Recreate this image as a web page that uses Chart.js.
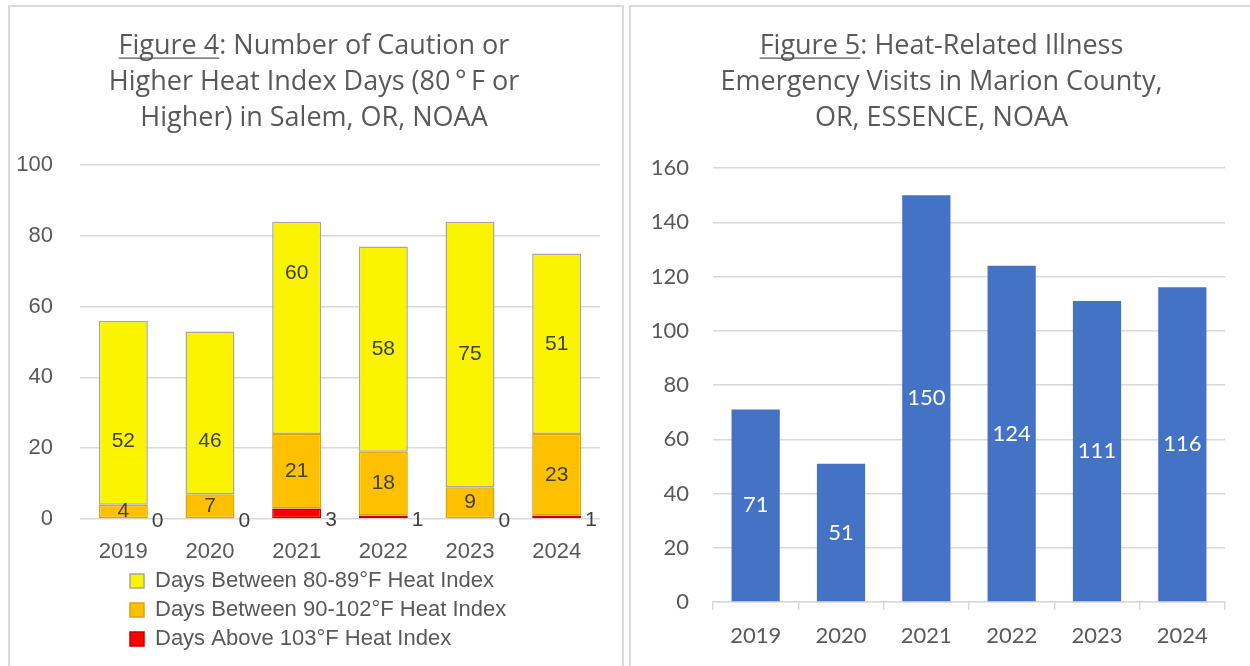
<!DOCTYPE html>
<html>
<head>
<meta charset="utf-8">
<script src="https://cdn.jsdelivr.net/npm/chart.js@4.4.1/dist/chart.umd.min.js"></script>
<style>
  html, body { margin:0; padding:0; background:#fff; width:1250px; height:666px; overflow:hidden; }
  .panel { position:absolute; border:2px solid #d9d9d9; box-sizing:border-box; }
  #p1 { left:8px; top:5px; width:616px; height:700px; }
  #p2 { left:629px; top:5px; width:640px; height:700px; }
  canvas { position:absolute; }
  #c1 { left:10px; top:8px; }
  #c2 { left:632px; top:8px; }
</style>
</head>
<body>
<div class="panel" id="p1"></div>
<div class="panel" id="p2"></div>
<canvas id="c1" width="612" height="658"></canvas>
<canvas id="c2" width="618" height="658"></canvas>
<script>
// ---------- data ----------
const categories = ['2019', '2020', '2021', '2022', '2023', '2024'];
const days80to89 = [52, 46, 60, 58, 75, 51];
const days90to102 = [4, 7, 21, 18, 9, 23];
const daysAbove103 = [0, 0, 3, 1, 0, 1];
const erVisits = [71, 51, 150, 124, 111, 116];
const heatDayTicks = [0, 20, 40, 60, 80, 100];
const visitTicks = [0, 20, 40, 60, 80, 100, 120, 140, 160];
const seriesNames = ['Days Above 103°F Heat Index', 'Days Between 90-102°F Heat Index', 'Days Between 80-89°F Heat Index'];
const title1 = ['Figure 4: Number of Caution or', 'Higher Heat Index Days (80\u2009°\u2009F or', 'Higher) in Salem, OR, NOAA'];
const title2 = ['Figure 5: Heat-Related Illness', 'Emergency Visits in Marion County,', 'OR, ESSENCE, NOAA'];
const underlined1 = 'Figure 4';
const underlined2 = 'Figure 5';

// ---------- plugins ----------
const barLabels = {
  id: 'barLabels',
  afterDatasetsDraw(chart, args, opts) {
    const ctx = chart.ctx;
    (opts.sets || []).forEach(cfg => {
      const meta = chart.getDatasetMeta(cfg.dataset);
      const data = chart.data.datasets[cfg.dataset].data;
      ctx.save();
      ctx.font = cfg.font;
      ctx.fillStyle = cfg.color;
      ctx.textBaseline = 'middle';
      meta.data.forEach((bar, i) => {
        const p = bar.getProps(['x', 'y', 'base', 'width'], true);
        let x, y;
        if (cfg.anchor === 'right') {
          ctx.textAlign = 'left';
          x = p.x + p.width / 2 + cfg.dx;
          y = Math.max(p.y, p.base) + cfg.dy;
        } else {
          ctx.textAlign = 'center';
          x = p.x;
          y = (p.y + p.base) / 2 + ((cfg.shift && cfg.shift[i]) || 0);
        }
        ctx.fillText(String(data[i]), x, y);
      });
      ctx.restore();
    });
  }
};

const titleUnderline = {
  id: 'titleUnderline',
  afterLayout(chart, args, opts) {
    const tb = chart.titleBlock;
    if (tb && opts.dx) { tb.left += opts.dx; tb.right += opts.dx; }
  },
  afterDraw(chart, args, opts) {
    const tb = chart.titleBlock;
    if (!tb || !opts.prefix) return;
    const t = chart.options.plugins.title;
    const ctx = chart.ctx;
    const size = t.font.size;
    const lh = size * t.font.lineHeight;
    ctx.save();
    ctx.font = `${size}px ${t.font.family}`;
    const line = t.text[0];
    const full = ctx.measureText(line).width;
    const pre = ctx.measureText(opts.prefix).width;
    const cx = (tb.left + tb.right) / 2;
    const yc = tb.top + t.padding.top + lh / 2;
    const x0 = cx - full / 2;
    ctx.strokeStyle = t.color;
    ctx.lineWidth = 1.3;
    ctx.beginPath();
    ctx.moveTo(x0, yc + size * 0.45);
    ctx.lineTo(x0 + pre, yc + size * 0.45);
    ctx.stroke();
    ctx.restore();
  }
};

const legendShift = {
  id: 'legendShift',
  afterLayout(chart, args, opts) {
    if (chart.legend) {
      if (opts.left !== undefined) chart.legend.left = opts.left;
      if (opts.top !== undefined) chart.legend.top = opts.top;
    }
  }
};

const GRAY = '#595959';
const GRID = '#d9d9d9';
const F1 = "'Liberation Sans', Arial, sans-serif";
const F2 = "Lato, 'Open Sans', sans-serif";
const FT = "'Open Sans', 'Liberation Sans', sans-serif";

// ---------- chart 1 ----------
new Chart(document.getElementById('c1'), {
  type: 'bar',
  data: {
    labels: categories,
    datasets: [
      { label: seriesNames[0], data: daysAbove103, backgroundColor: '#FF0000', borderColor: '#C00000', borderWidth: 1.5, borderSkipped: false },
      { label: seriesNames[1], data: days90to102, backgroundColor: '#FFC000', borderColor: '#DCA400', borderWidth: 1.5, borderSkipped: false },
      { label: seriesNames[2], data: days80to89, backgroundColor: '#FAF400', borderColor: '#A6A6A6', borderWidth: 1.5, borderSkipped: false }
    ]
  },
  options: {
    responsive: false,
    animation: false,
    devicePixelRatio: 1,
    layout: { padding: { top: 0, left: 0, right: 22, bottom: 0 } },
    datasets: { bar: { barPercentage: 0.565, categoryPercentage: 1 } },
    scales: {
      x: {
        stacked: true,
        grid: { display: false },
        border: { display: false },
        ticks: { color: GRAY, font: { family: F1, size: 22 }, padding: 12, maxRotation: 0 },
        afterFit: s => { s.height = 50; }
      },
      y: {
        stacked: true,
        min: 0, max: 100,
        afterBuildTicks: s => { s.ticks = heatDayTicks.map(v => ({ value: v })); },
        grid: { color: GRID, lineWidth: 1.5, drawTicks: false },
        border: { display: false },
        ticks: { color: GRAY, font: { family: F1, size: 22 }, padding: 27 },
        afterFit: s => { s.width = 70; }
      }
    },
    plugins: {
      title: {
        display: true, text: title1, color: GRAY,
        font: { family: FT, size: 27, weight: 'normal', lineHeight: 36 / 27 },
        padding: { top: 20, bottom: 29 }
      },
      legend: {
        position: 'bottom', align: 'start', reverse: true,
        labels: { color: GRAY, font: { family: F1, size: 22 }, boxWidth: 14, boxHeight: 14, padding: 7 }
      },
      tooltip: { enabled: false },
      legendShift: { left: 113, top: 555 },
      titleUnderline: { prefix: underlined1, dx: 9 },
      barLabels: {
        sets: [
          { dataset: 2, font: `21px ${F1}`, color: '#404040', shift: [28, 28, -55, 0, 0, 0] },
          { dataset: 1, font: `21px ${F1}`, color: '#404040' },
          { dataset: 0, font: `21px ${F1}`, color: '#404040', anchor: 'right', dx: 4, dy: 2 }
        ]
      }
    }
  },
  plugins: [barLabels, titleUnderline, legendShift]
});

// ---------- chart 2 ----------
new Chart(document.getElementById('c2'), {
  type: 'bar',
  data: {
    labels: categories,
    datasets: [
      { label: 'Heat-Related Illness Emergency Visits', data: erVisits, backgroundColor: '#4472C4', borderWidth: 0 }
    ]
  },
  options: {
    responsive: false,
    animation: false,
    devicePixelRatio: 1,
    layout: { padding: { top: 0, left: 0, right: 25, bottom: 0 } },
    datasets: { bar: { barPercentage: 0.565, categoryPercentage: 1 } },
    scales: {
      x: {
        grid: { display: true, drawOnChartArea: false, drawTicks: true, tickLength: 8, color: GRID, lineWidth: 1.5, offset: true },
        border: { display: true, color: GRID, width: 1.5 },
        ticks: { color: GRAY, font: { family: F2, size: 22 }, padding: 13, maxRotation: 0 },
        afterFit: s => { s.height = 64; }
      },
      y: {
        min: 0, max: 160,
        afterBuildTicks: s => { s.ticks = visitTicks.map(v => ({ value: v })); },
        grid: { color: GRID, lineWidth: 1.5, drawTicks: false },
        border: { display: false },
        ticks: { color: GRAY, font: { family: F2, size: 22 }, padding: 24 },
        afterFit: s => { s.width = 81; }
      }
    },
    plugins: {
      title: {
        display: true, text: title2, color: GRAY,
        font: { family: FT, size: 27, weight: 'normal', lineHeight: 36 / 27 },
        padding: { top: 20, bottom: 32 }
      },
      legend: { display: false },
      tooltip: { enabled: false },
      titleUnderline: { prefix: underlined2, dx: 13 },
      barLabels: {
        sets: [
          { dataset: 0, font: `22px ${F2}`, color: '#FFFFFF' }
        ]
      }
    }
  },
  plugins: [barLabels, titleUnderline]
});
</script>
</body>
</html>
